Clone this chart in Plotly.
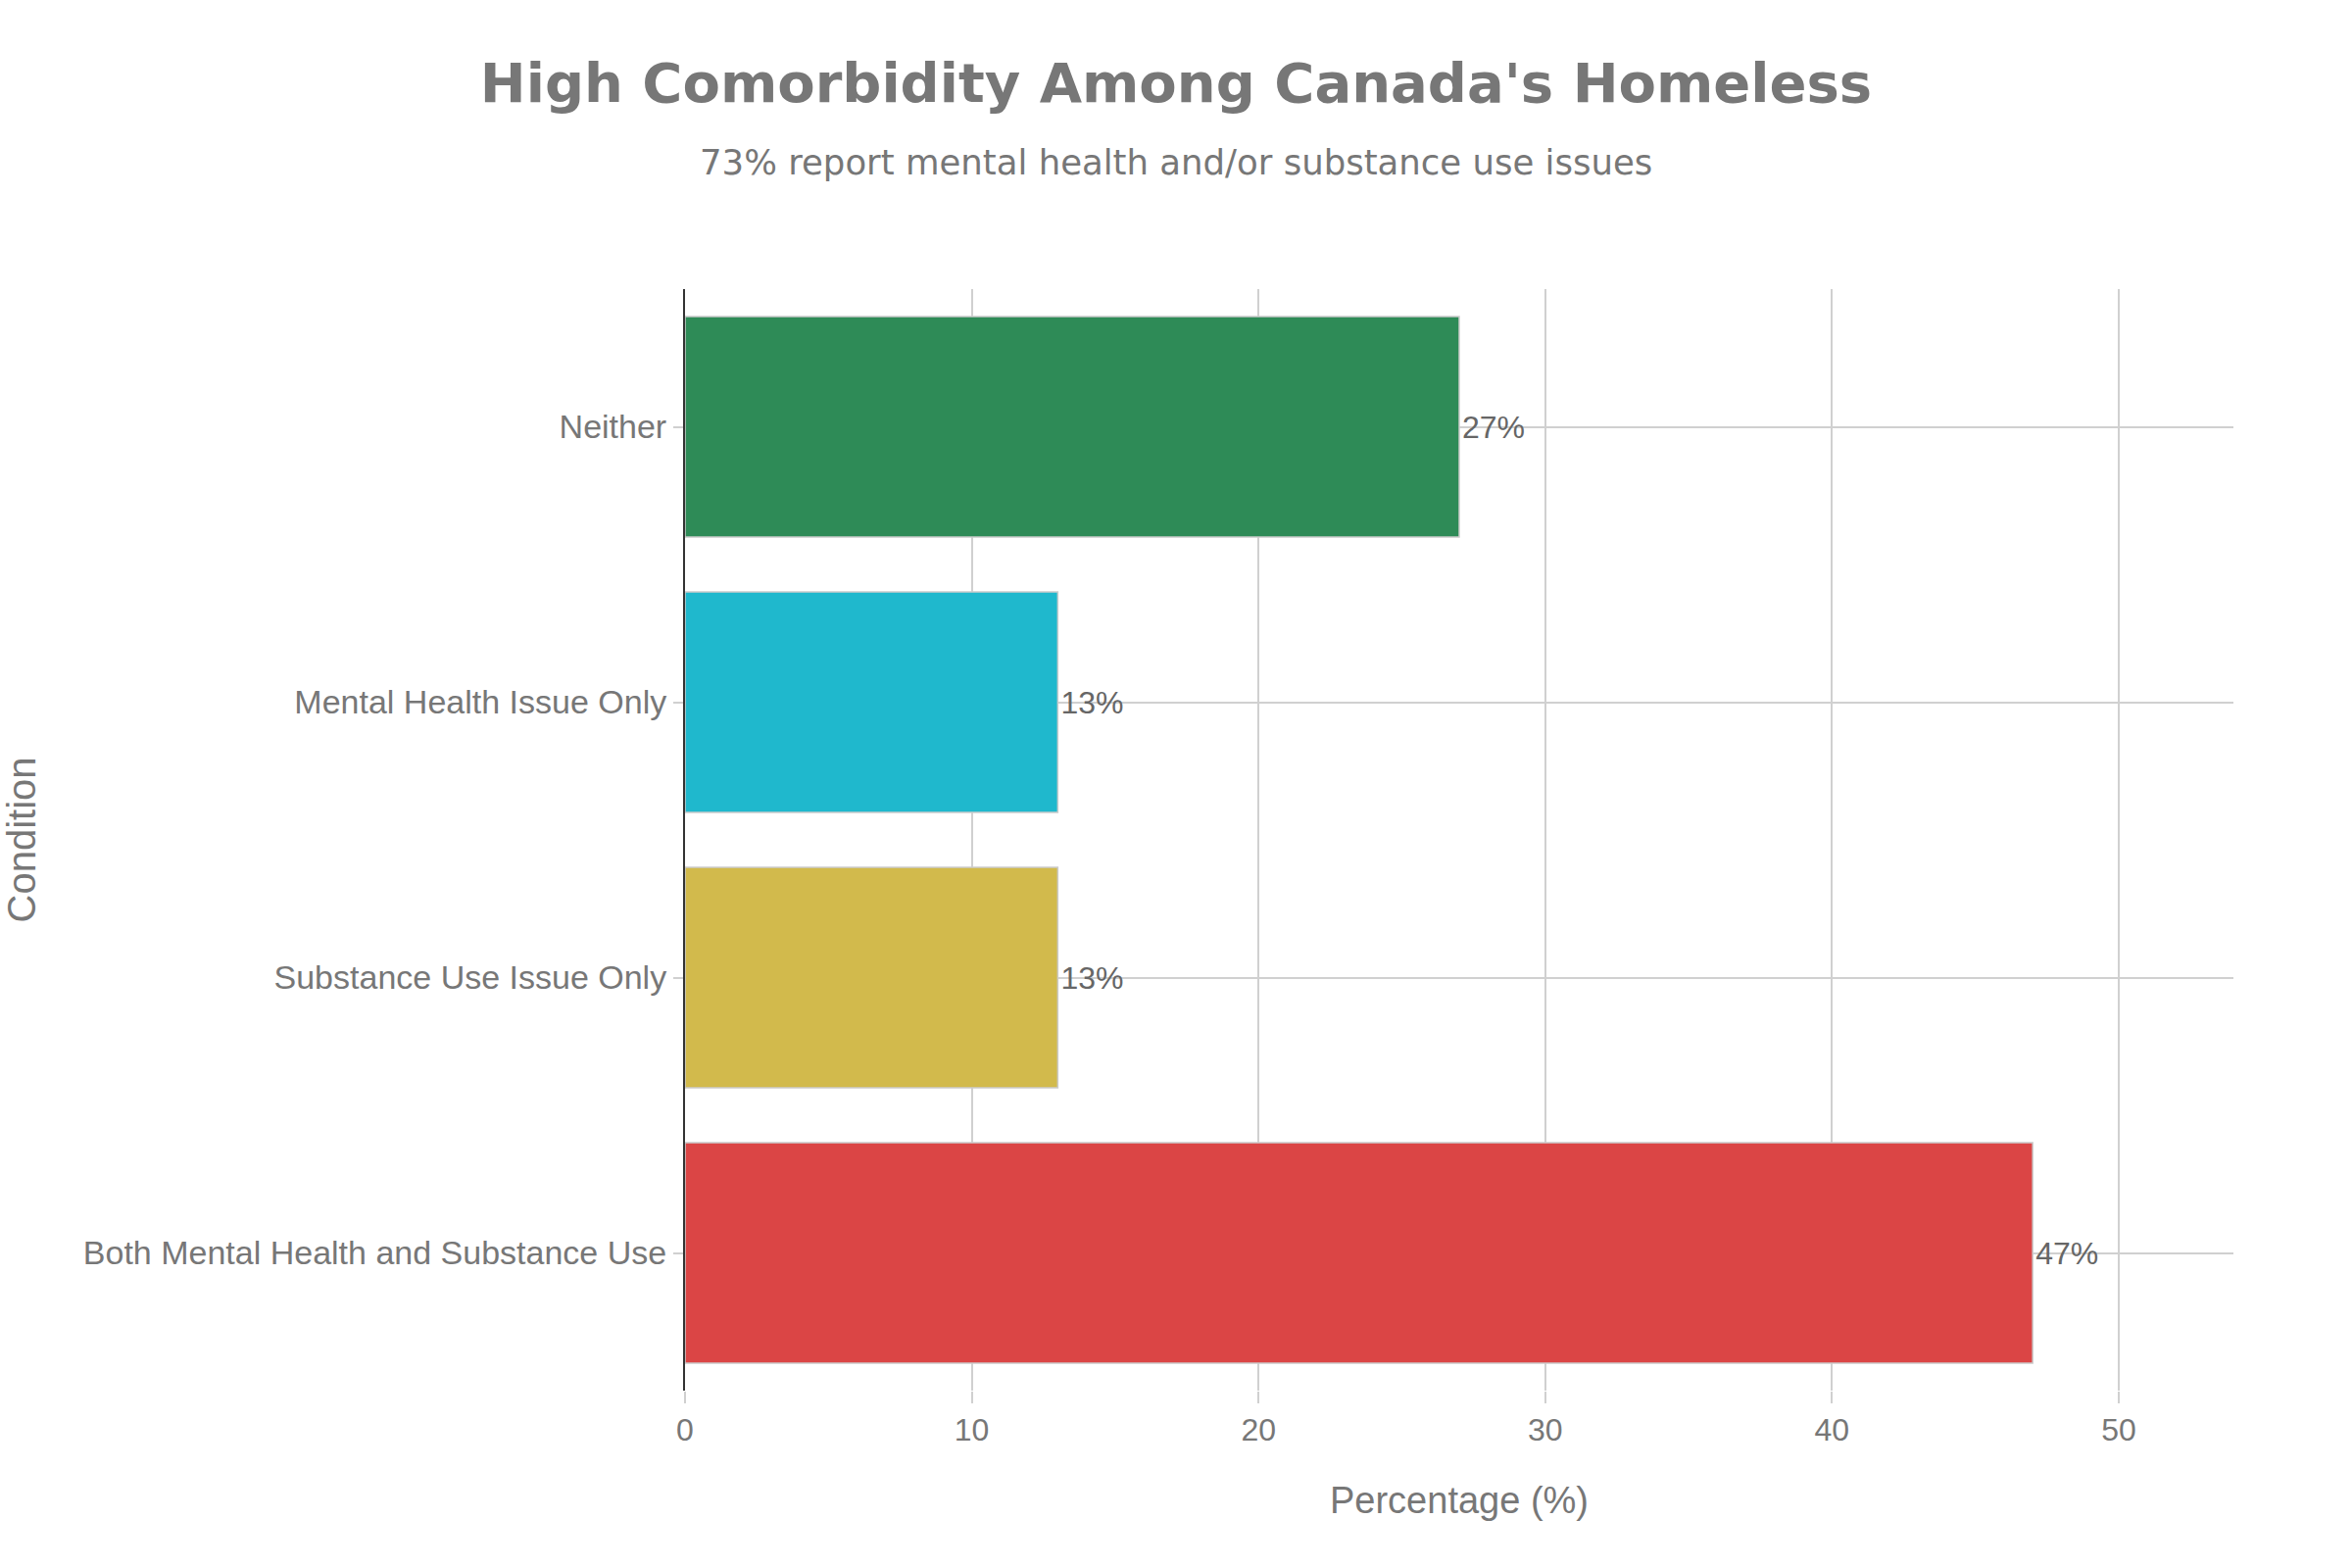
import plotly.graph_objects as go

categories = ["Both Mental Health and Substance Use", "Substance Use Issue Only",
              "Mental Health Issue Only", "Neither"]
values = [47, 13, 13, 27]
colors = ["#DB4545", "#D2BA4C", "#1FB8CD", "#2E8B57"]
x_ticks = [0, 10, 20, 30, 40, 50]

title_text = "High Comorbidity Among Canada's Homeless"
subtitle_text = "73% report mental health and/or substance use issues"

fig = go.Figure(go.Bar(
    y=categories, x=values, orientation="h",
    marker=dict(color=colors, line=dict(color="#cccccc", width=1.5)),
    text=[f"{v}%" for v in values], textposition="outside",
    textfont=dict(size=32, color="#666666", family="Liberation Sans, Arial"),
    cliponaxis=False,
))

fig.update_layout(
    width=2400, height=1600,
    paper_bgcolor="white", plot_bgcolor="white",
    margin=dict(l=699, r=121, t=295, b=181),
    bargap=0.2,
    showlegend=False,
    font=dict(family="Liberation Sans, Arial", size=30, color="#666666"),
    title=dict(text=f"<b>{title_text}</b>", x=0.5, xanchor="center",
               y=1 - 84 / 1600, yanchor="middle", yref="container",
               font=dict(family="DejaVu Sans", size=56, color="#777777")),
    annotations=[dict(text=subtitle_text, xref="paper", yref="paper",
                      x=(1200 - 699) / 1580, y=(1419 - 165) / 1124,
                      xanchor="center", yanchor="middle", showarrow=False,
                      font=dict(family="DejaVu Sans", size=35.5, color="#777777"))],
    xaxis=dict(range=[0, 54], tickvals=x_ticks, showgrid=True, gridcolor="#d0d0d0",
               gridwidth=1.5, zeroline=False, ticks="outside", tickcolor="#d0d0d0",
               ticklen=12, tickwidth=1.5, showline=False,
               title=dict(text="Percentage (%)", font=dict(size=38, color="#777777"),
                          standoff=40),
               tickfont=dict(size=32, color="#777777")),
    yaxis=dict(showgrid=True, gridcolor="#d0d0d0", gridwidth=1.5, showline=True,
               linecolor="#333333", linewidth=2, ticks="outside", tickcolor="#d0d0d0",
               ticklen=10, tickwidth=1.5,
               title=dict(text="Condition", font=dict(size=40, color="#777777"),
                          standoff=40),
               tickfont=dict(size=34, color="#777777")),
)

fig.write_html("out.html")
